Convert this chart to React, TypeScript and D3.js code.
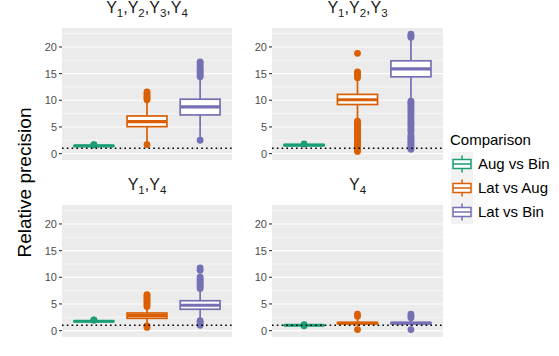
import React from "react";
import * as d3 from "d3";

const comparisons = ["Aug vs Bin", "Lat vs Aug", "Lat vs Bin"];
const colors = ["#1B9E77", "#D95F02", "#7570B3"];
const panelSubscripts = [[1, 2, 3, 4], [1, 2, 3], [1, 4], [4]];
const yTicks = [0, 5, 10, 15, 20];
const yMinor = [2.5, 7.5, 12.5, 17.5, 22.5];
const refLine = 1;

// box stats: [panel][comparison]
const lowerWhisker = [
  [1.3, 2.1, 2.9],
  [1.45, 6.4, 10.1],
  [1.62, 1.2, 2.1],
  [0.95, 0.8, 0.8],
];
const lowerHinge = [
  [1.38, 5.05, 7.25],
  [1.52, 9.2, 14.4],
  [1.68, 2.3, 4.0],
  [0.98, 1.3, 1.3],
];
const medians = [
  [1.45, 6.0, 8.75],
  [1.6, 10.1, 15.9],
  [1.75, 2.8, 4.75],
  [1.0, 1.4, 1.4],
];
const upperHinge = [
  [1.52, 7.05, 10.2],
  [1.68, 11.1, 17.4],
  [1.82, 3.3, 5.6],
  [1.02, 1.5, 1.5],
];
const upperWhisker = [
  [1.6, 9.9, 14.2],
  [1.75, 14.0, 21.6],
  [1.88, 4.3, 7.7],
  [1.05, 2.2, 2.1],
];
const outliers = [
  [
    [1.62, 1.66],
    [1.7, 10.1, 10.4, 10.7, 11.0, 11.3, 11.55],
    [2.5, 14.4, 14.7, 15.0, 15.3, 15.6, 15.9, 16.2, 16.6, 17.0, 17.2],
  ],
  [
    [1.8],
    [0.4, 0.7, 1.0, 1.3, 1.6, 1.9, 2.2, 2.5, 2.8, 3.1, 3.4, 3.7, 4.0, 4.3, 4.6, 4.9, 5.2, 5.5, 5.8, 6.1,
      14.2, 14.5, 14.8, 15.1, 15.3, 18.8],
    [0.8, 1.1, 1.4, 1.7, 2.0, 2.3, 2.6, 2.9, 3.2, 3.5, 4.2, 4.5, 4.9, 5.3, 5.7, 6.1, 6.5, 6.9, 7.3, 7.7,
      8.1, 8.5, 8.9, 9.3, 9.6, 9.85, 21.8, 22.1, 22.4],
  ],
  [
    [1.95, 2.0],
    [0.6, 0.9, 4.5, 4.8, 5.1, 5.4, 5.7, 6.0, 6.3, 6.6, 6.75],
    [1.0, 1.3, 1.6, 1.85, 7.9, 8.2, 8.5, 8.8, 9.1, 9.4, 9.7, 10.0, 11.3, 11.75],
  ],
  [
    [0.9, 1.1],
    [0.2, 3.1, 2.7],
    [0.2, 2.4, 2.7, 3.1],
  ],
];

const panelCols = [
  [62, 232],
  [272, 443],
];
const panelRows = [
  [28, 160],
  [205, 337],
];
const font = "'Liberation Sans', Arial, Helvetica, sans-serif";

const Panel = ({ idx }: { idx: number }) => {
  const [x0, x1] = panelCols[idx % 2];
  const [y0, y1] = panelRows[Math.floor(idx / 2)];
  const y = d3.scaleLinear().domain([-1.2, 23.55]).range([y1, y0]);
  // discrete scale: positions 1..3 on [0.4, 3.6]
  const xc = d3.scaleLinear().domain([0.4, 3.6]).range([x0, x1]);
  const bw = xc(0.75) - xc(0);
  const subs = panelSubscripts[idx];

  return (
    <g>
      <rect x={x0} y={y0} width={x1 - x0} height={y1 - y0} fill="#EBEBEB" />
      {yMinor.map((t) => (
        <line key={"m" + t} x1={x0} x2={x1} y1={y(t)} y2={y(t)} stroke="#fff" strokeWidth={0.55} />
      ))}
      {yTicks.map((t) => (
        <g key={"t" + t}>
          <line x1={x0} x2={x1} y1={y(t)} y2={y(t)} stroke="#fff" strokeWidth={1.1} />
          <line x1={x0 - 3} x2={x0} y1={y(t)} y2={y(t)} stroke="#333" strokeWidth={1.1} />
          <text
            x={x0 - 5}
            y={y(t)}
            dy="0.36em"
            textAnchor="end"
            fontSize={11}
            fill="#4D4D4D"
            fontFamily={font}
          >
            {t}
          </text>
        </g>
      ))}
      {comparisons.map((c, j) => {
        const cx = xc(j + 1);
        const col = colors[j];
        return (
          <g key={c}>
            <line x1={cx} x2={cx} y1={y(upperWhisker[idx][j])} y2={y(upperHinge[idx][j])} stroke={col} strokeWidth={1.7} />
            <line x1={cx} x2={cx} y1={y(lowerHinge[idx][j])} y2={y(lowerWhisker[idx][j])} stroke={col} strokeWidth={1.7} />
            <rect
              x={cx - bw / 2}
              width={bw}
              y={y(upperHinge[idx][j])}
              height={Math.max(0, y(lowerHinge[idx][j]) - y(upperHinge[idx][j]))}
              fill="#fff"
              stroke={col}
              strokeWidth={1.7}
            />
            <line
              x1={cx - bw / 2}
              x2={cx + bw / 2}
              y1={y(medians[idx][j])}
              y2={y(medians[idx][j])}
              stroke={col}
              strokeWidth={3.2}
            />
            {outliers[idx][j].map((v, k) => (
              <circle key={k} cx={cx} cy={y(v)} r={3.4} fill={col} />
            ))}
          </g>
        );
      })}
      <line
        x1={x0}
        x2={x1}
        y1={y(refLine)}
        y2={y(refLine)}
        stroke="#000"
        strokeWidth={1.6}
        strokeDasharray="1.6 3.2"
      />
      <text
        x={(x0 + x1) / 2}
        y={y0 - 15}
        textAnchor="middle"
        fontSize={16}
        fill="#1A1A1A"
        fontFamily={font}
      >
        {subs.map((s, k) => (
          <React.Fragment key={k}>
            <tspan dy={k > 0 ? -3.5 : 0}>{k > 0 ? ",Y" : "Y"}</tspan>
            <tspan fontSize={11.5} dy={3.5}>
              {s}
            </tspan>
          </React.Fragment>
        ))}
      </text>
    </g>
  );
};

const Legend = () => {
  const lx = 451;
  const top = 152;
  const kh = 24;
  return (
    <g fontFamily={font}>
      <text x={450} y={145} fontSize={15} fill="#000">
        Comparison
      </text>
      {comparisons.map((c, j) => {
        const cy = top + kh * j + kh / 2;
        const col = colors[j];
        return (
          <g key={c}>
            <rect x={lx} y={top + kh * j} width={22} height={kh} fill="#F2F2F2" />
            <line x1={lx + 11} x2={lx + 11} y1={cy - 8.5} y2={cy + 8.5} stroke={col} strokeWidth={1.5} />
            <rect x={lx + 2} y={cy - 4.5} width={18} height={9} fill="#fff" stroke={col} strokeWidth={1.5} />
            <line x1={lx + 2} x2={lx + 20} y1={cy} y2={cy} stroke={col} strokeWidth={1.5} />
            <text x={lx + 27} y={cy} dy="0.35em" fontSize={15} fill="#000">
              {c}
            </text>
          </g>
        );
      })}
    </g>
  );
};

export default function App() {
  return (
    <svg
      width={559}
      height={356}
      style={{ position: "absolute", left: 0, top: 0, background: "#fff" }}
    >
      <rect width={559} height={356} fill="#fff" />
      {[0, 1, 2, 3].map((i) => (
        <Panel key={i} idx={i} />
      ))}
      <text
        transform="translate(24,182.5) rotate(-90)"
        textAnchor="middle"
        dy="0.35em"
        fontSize={19}
        fontFamily={font}
        fill="#000"
      >
        Relative precision
      </text>
      <Legend />
    </svg>
  );
}
